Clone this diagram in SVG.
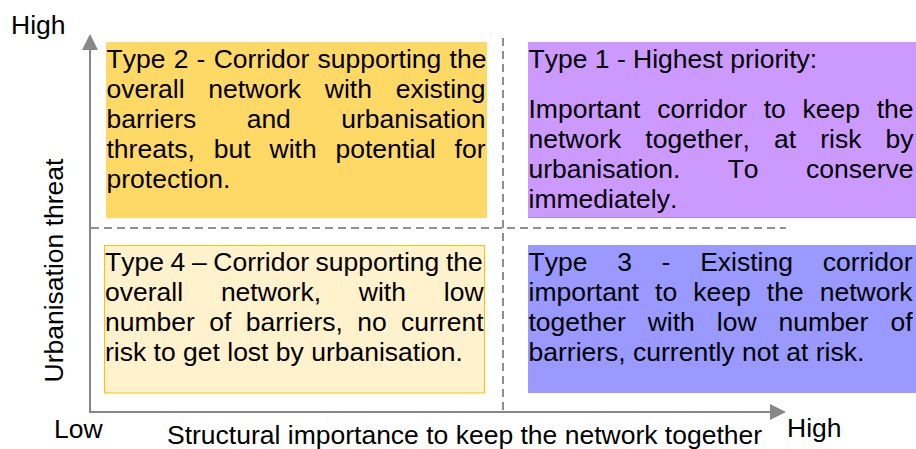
<svg xmlns="http://www.w3.org/2000/svg" width="916" height="449" viewBox="0 0 916 449">
  <defs>
    <style>
      text { font-family: "Liberation Sans", Arial, sans-serif; font-size: 26.5px; fill: #000; font-kerning: none; }
      .axis { stroke: #878787; stroke-width: 2; fill: none; }
      .dash { stroke: #8f8f8f; stroke-width: 2; stroke-dasharray: 8 5; fill: none; }
    </style>
    <marker id="arrow" markerUnits="userSpaceOnUse" markerWidth="16" markerHeight="16" refX="0" refY="8" orient="auto">
      <path d="M0,0 L16,8 L0,16 z" fill="#878787"/>
    </marker>
  </defs>
  <rect width="916" height="449" fill="#ffffff"/>

  <g id="type2">
    <rect x="106" y="42" width="381" height="176" fill="#FFD966"/>
    <text x="106.5" y="68" word-spacing="0.86">Type 2 - Corridor supporting the</text>
    <text x="106.5" y="98" word-spacing="16.38">overall network with existing</text>
    <text x="106.5" y="128" word-spacing="42.96">barriers and urbanisation</text>
    <text x="106.5" y="158" word-spacing="11.53">threats, but with potential for</text>
    <text x="106.5" y="188">protection.</text>
  </g>

  <g id="type1">
    <rect x="528" y="42" width="388" height="176" fill="#CC99FF"/>
    <line x1="528" y1="217.5" x2="916" y2="217.5" stroke="#A886D8" stroke-width="1"/>
    <text x="528.5" y="68">Type 1 - Highest priority:</text>
    <text x="528.5" y="118" word-spacing="9.35">Important corridor to keep the</text>
    <text x="528.5" y="148" word-spacing="16.72">network together, at risk by</text>
    <text x="528.5" y="178" word-spacing="40.06">urbanisation. To conserve</text>
    <text x="528.5" y="208">immediately.</text>
  </g>

  <g id="type4">
    <rect x="104.5" y="245.5" width="380" height="147.5" fill="#FFF2CC" stroke="#FFC000" stroke-width="1"/>
    <text x="105" y="271" word-spacing="-0.74">Type 4 – Corridor supporting the</text>
    <text x="105" y="301" word-spacing="30.45">overall network, with low</text>
    <text x="105" y="331" word-spacing="7.0">number of barriers, no current</text>
    <text x="105" y="361">risk to get lost by urbanisation.</text>
  </g>

  <g id="type3">
    <rect x="528" y="245" width="388" height="148" fill="#9999FF"/>
    <text x="528.5" y="271" word-spacing="22.37">Type 3 - Existing corridor</text>
    <text x="528.5" y="301" word-spacing="8.73">important to keep the network</text>
    <text x="528.5" y="331" word-spacing="14.62">together with low number of</text>
    <text x="528.5" y="361">barriers, currently not at risk.</text>
  </g>

  <g id="connectors">
    <line class="dash" x1="91" y1="228" x2="786" y2="228"/>
    <line class="dash" x1="503" y1="38" x2="503" y2="411"/>
    <line class="axis" x1="90" y1="413" x2="90" y2="50" marker-end="url(#arrow)"/>
    <line class="axis" x1="89" y1="412" x2="770" y2="412" marker-end="url(#arrow)"/>
  </g>

  <g id="labels">
    <text x="11" y="34">High</text>
    <text x="54" y="438">Low</text>
    <text x="787" y="437">High</text>
    <text x="167" y="444">Structural importance to keep the network together</text>
    <text x="0" y="0" text-anchor="middle" transform="translate(63,270.5) rotate(-90)">Urbanisation threat</text>
  </g>
</svg>
